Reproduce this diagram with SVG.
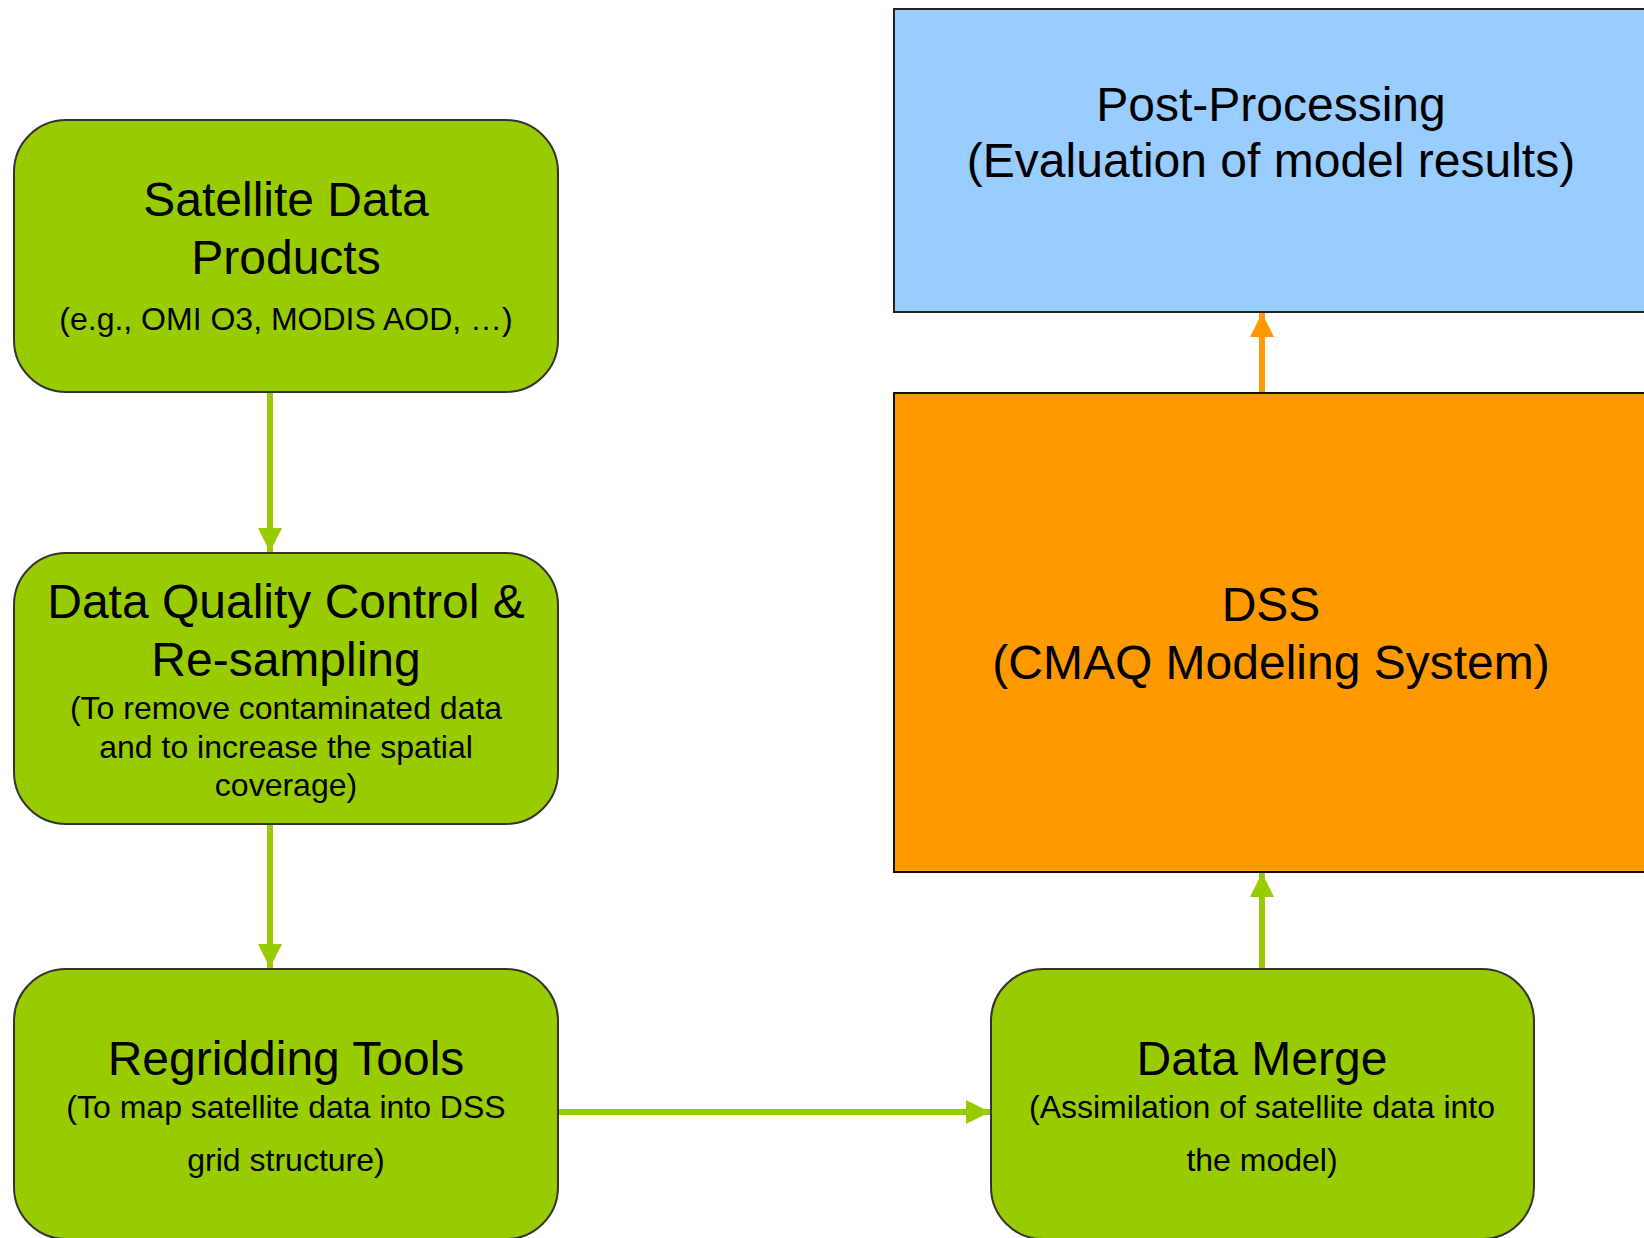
<svg xmlns="http://www.w3.org/2000/svg" width="1644" height="1238" viewBox="0 0 1644 1238">
<style>
.g{fill:#99CC00;stroke:#333333;stroke-width:2}
.blue{fill:#99CCFF;stroke:#222222;stroke-width:2}
.orange{fill:#FF9900;stroke:#111111;stroke-width:2}
text{font-family:"Liberation Sans",Arial,sans-serif;fill:#000;text-anchor:middle}
.t{font-size:48px}
.s{font-size:32px}
.cg{stroke:#99CC00;stroke-width:6;fill:none}
.co{stroke:#FF9900;stroke-width:6;fill:none}
</style>
<defs>
<marker id="ag" viewBox="0 0 10 10" refX="10" refY="5" markerWidth="4" markerHeight="4" markerUnits="strokeWidth" orient="auto"><path d="M0,0 L10,5 L0,10 z" fill="#99CC00"/></marker>
<marker id="ao" viewBox="0 0 10 10" refX="10" refY="5" markerWidth="4" markerHeight="4" markerUnits="strokeWidth" orient="auto"><path d="M0,0 L10,5 L0,10 z" fill="#FF9900"/></marker>
</defs>
<rect width="1644" height="1238" fill="#FFFFFF"/>
<g id="connectors">
<line class="cg" x1="270" y1="393" x2="270" y2="552" marker-end="url(#ag)"/>
<line class="cg" x1="270" y1="825" x2="270" y2="968" marker-end="url(#ag)"/>
<line class="cg" x1="559" y1="1112" x2="990" y2="1112" marker-end="url(#ag)"/>
<line class="cg" x1="1262" y1="968" x2="1262" y2="873" marker-end="url(#ag)"/>
<line class="co" x1="1262" y1="392" x2="1262" y2="313" marker-end="url(#ao)"/>
</g>
<g id="post-processing">
<rect class="blue" x="894" y="9" width="760" height="303"/>
<text class="t" x="1271" y="121">Post-Processing</text>
<text class="t" x="1271" y="177">(Evaluation of model results)</text>
</g>
<g id="dss">
<rect class="orange" x="894" y="393" width="760" height="479"/>
<text class="t" x="1271" y="621">DSS</text>
<text class="t" x="1271" y="679">(CMAQ Modeling System)</text>
</g>
<g id="satellite-data">
<rect class="g" x="14" y="120" width="544" height="272" rx="52" ry="52"/>
<text class="t" x="286" y="216">Satellite Data</text>
<text class="t" x="286" y="274">Products</text>
<text class="s" x="286" y="330">(e.g., OMI O3, MODIS AOD, …)</text>
</g>
<g id="quality-control">
<rect class="g" x="14" y="553" width="544" height="271" rx="52" ry="52"/>
<text class="t" x="286" y="618">Data Quality Control &amp;</text>
<text class="t" x="286" y="676">Re-sampling</text>
<text class="s" x="286" y="719">(To remove contaminated data</text>
<text class="s" x="286" y="758">and to increase the spatial</text>
<text class="s" x="286" y="796">coverage)</text>
</g>
<g id="regridding">
<rect class="g" x="14" y="969" width="544" height="270" rx="52" ry="52"/>
<text class="t" x="286" y="1075">Regridding Tools</text>
<text class="s" x="286" y="1118">(To map satellite data into DSS</text>
<text class="s" x="286" y="1171">grid structure)</text>
</g>
<g id="data-merge">
<rect class="g" x="991" y="969" width="543" height="270" rx="52" ry="52"/>
<text class="t" x="1262" y="1075">Data Merge</text>
<text class="s" x="1262" y="1118">(Assimilation of satellite data into</text>
<text class="s" x="1262" y="1171">the model)</text>
</g>
</svg>
